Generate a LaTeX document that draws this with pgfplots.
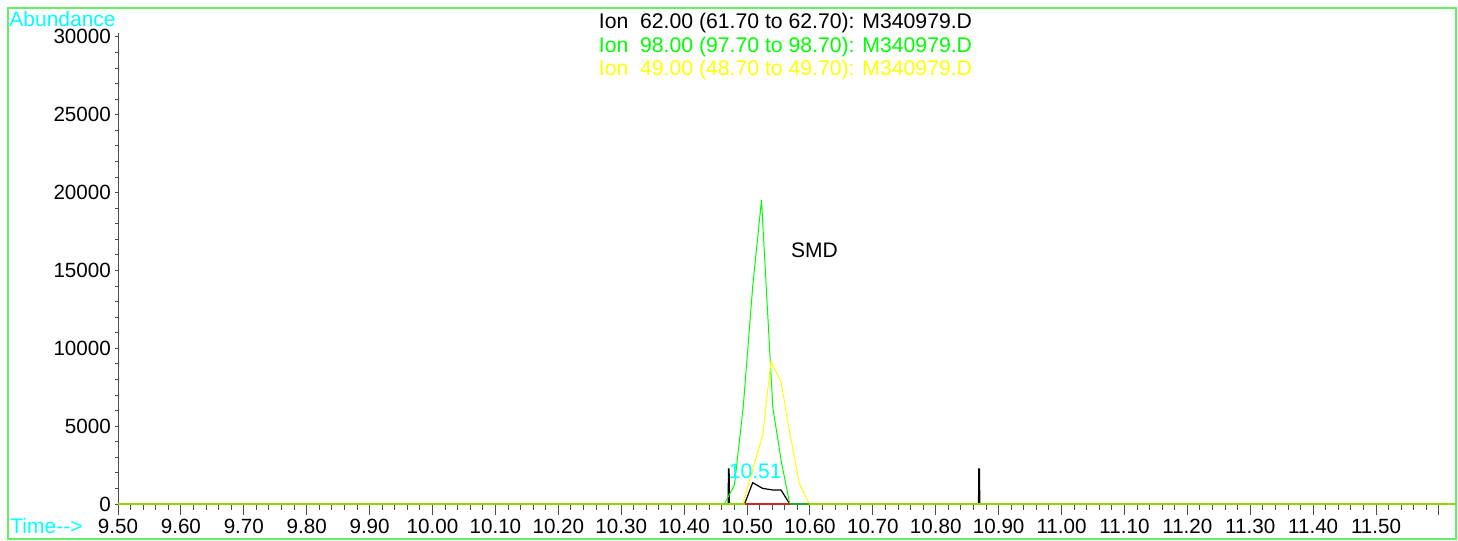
\documentclass[border=0pt]{standalone}
\usepackage{pgfplots}
\pgfplotsset{compat=1.18}
\usepackage{fontspec}
\setmainfont{Liberation Sans}
\definecolor{frame}{RGB}{100,240,100}
\definecolor{ionA}{RGB}{0,0,0}
\definecolor{ionB}{RGB}{0,255,0}
\definecolor{ionC}{RGB}{255,255,0}
\definecolor{cyanlbl}{RGB}{0,255,255}
\definecolor{basecol}{RGB}{150,212,0}
\definecolor{intred}{RGB}{205,40,40}
\definecolor{intgreen}{RGB}{40,170,40}
\pgfplotsset{chrom/.style={
  at={(59pt,18.5pt)}, anchor=south west,
  scale only axis, width=668.5pt, height=235.5pt,
  xmin=9.5, xmax=11.6255, ymin=0, ymax=30250,
  tick align=outside,
  /pgf/number format/assume math mode=true,
  every tick label/.append style={font=\fontsize{10.3}{12}\selectfont},
  clip=false}}
\begin{document}
\begin{tikzpicture}
\useasboundingbox (0,0) rectangle (729pt,270.5pt);
\draw[frame, line width=1pt] (4pt,1pt) rectangle (728pt,266.5pt);
\node[anchor=base west, text=cyanlbl, inner sep=0pt, font=\fontsize{10.5}{12}\selectfont] at (4.5pt,257pt) {Abundance};
\node[anchor=base west, text=cyanlbl, inner sep=0pt, font=\fontsize{10.5}{12}\selectfont] at (5pt,3.5pt) {Time-{}-{}>};
\node[anchor=base, inner sep=0pt, text=ionA, font=\fontsize{10.6}{12}\selectfont] at (392.75pt,256.15pt) {Ion\ \ 62.00 (61.70 to 62.70): M340979.D};
\node[anchor=base, inner sep=0pt, text=ionB, font=\fontsize{10.6}{12}\selectfont] at (392.75pt,244.15pt) {Ion\ \ 98.00 (97.70 to 98.70): M340979.D};
\node[anchor=base, inner sep=0pt, text=ionC, font=\fontsize{10.6}{12}\selectfont] at (392.75pt,232.5pt) {Ion\ \ 49.00 (48.70 to 49.70): M340979.D};
% y axis with short ticks
\begin{axis}[chrom,
  axis x line=none, axis y line*=left,
  y axis line style={black!70, line width=0.5pt},
  y tick style={black!70, line width=0.5pt},
  major tick length=1.6pt, minor tick length=1.5pt,
  ytick={0,5000,10000,15000,20000,25000,30000},
  scaled y ticks=false,
  yticklabels={0,5000,10000,15000,20000,25000,30000},
  minor y tick num=4,
  yticklabel style={anchor=east, inner sep=0pt, xshift=-1.8pt},
]
\end{axis}
% x axis and data
\begin{axis}[chrom,
  axis x line*=bottom, axis y line=none,
  x axis line style={basecol, line width=0.5pt},
  x tick style={black!70, line width=0.5pt},
  major tick length=5.5pt, minor tick length=3pt,
  xtick={9.5,9.6,9.7,9.8,9.9,10.0,10.1,10.2,10.3,10.4,10.5,10.6,10.7,10.8,10.9,11.0,11.1,11.2,11.3,11.4,11.5,11.6},
  xticklabels={9.50,9.60,9.70,9.80,9.90,10.00,10.10,10.20,10.30,10.40,10.50,10.60,10.70,10.80,10.90,11.00,11.10,11.20,11.30,11.40,11.50,{}},
  minor x tick num=4,
  xticklabel style={anchor=base, inner sep=0pt, yshift=-9pt},
]
% Ion 62 (black)
\addplot[ionA, line width=0.6pt] coordinates {
 (9.5,0) (10.470,0) (10.4705,2250) (10.4715,2250) (10.472,0) (10.496,0) (10.509,1370) (10.525,1000)
 (10.541,900) (10.554,900) (10.568,0) (10.868,0) (10.8685,2250) (10.8695,2250) (10.870,0) (11.6255,0)};
% Ion 98 (green)
\addplot[ionB, line width=0.5pt] coordinates {
 (9.5,0) (10.464,0) (10.480,1220) (10.494,6250) (10.509,13960) (10.523,19520)
 (10.541,6200) (10.555,2610) (10.568,0) (11.6255,0)};
% Ion 49 (yellow)
\addplot[ionC, line width=0.5pt] coordinates {
 (9.5,0) (10.493,0) (10.511,2500) (10.525,4430) (10.538,9140) (10.554,7860)
 (10.568,4540) (10.583,1330) (10.599,0) (11.6255,0)};
% baseline and integration marks
\addplot[basecol, line width=0.8pt] coordinates {(9.5,0) (10.496,0)};
\addplot[basecol, line width=0.8pt] coordinates {(10.599,0) (11.6255,0)};
\addplot[intred, line width=0.8pt] coordinates {(10.496,0) (10.568,0)};
\addplot[intgreen, line width=0.8pt] coordinates {(10.568,0) (10.599,0)};
\node[anchor=center, inner sep=0pt, font=\fontsize{10.5}{12}\selectfont] at (axis cs:10.607,16280) {SMD};
\node[anchor=base, inner sep=0pt, text=cyanlbl, font=\fontsize{10.5}{12}\selectfont] at (axis cs:10.513,1650) {10.51};
\end{axis}
\end{tikzpicture}
\end{document}
